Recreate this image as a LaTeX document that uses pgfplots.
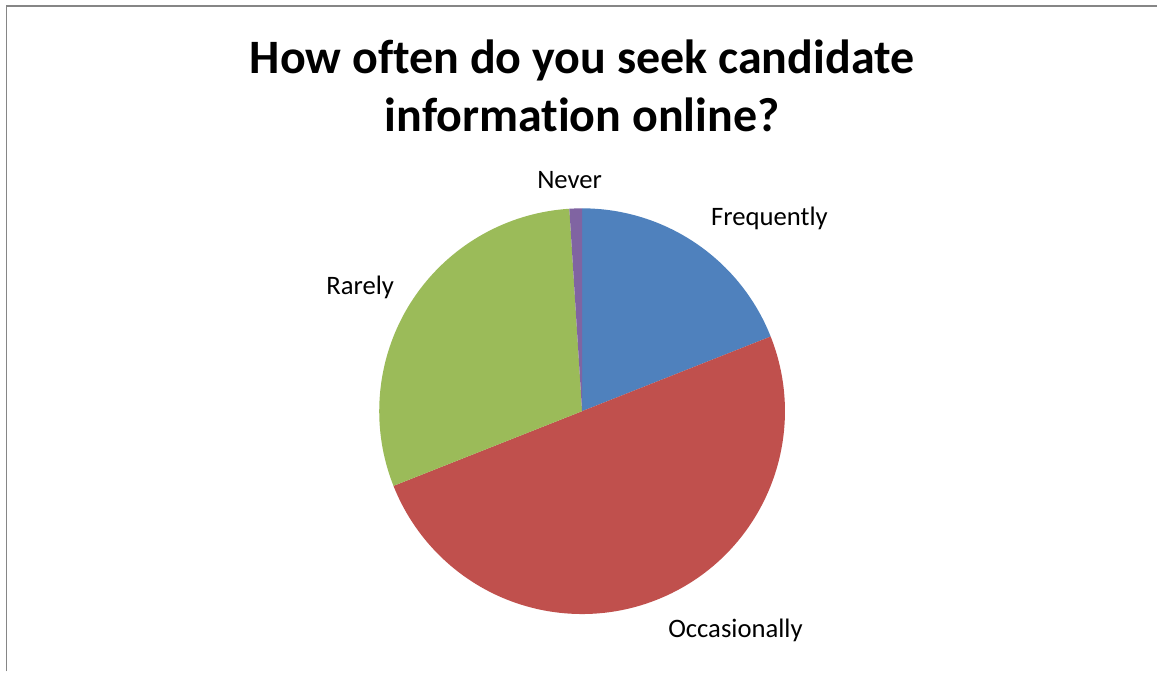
\documentclass[border=0pt]{standalone}
\usepackage{pgfplots}
\pgfplotsset{compat=1.18}
\usepackage{fontspec}
\setmainfont[Ligatures=NoCommon]{Carlito}
\definecolor{cFreq}{HTML}{4F81BD}
\definecolor{cOcc}{HTML}{C0504D}
\definecolor{cRare}{HTML}{9BBB59}
\definecolor{cNever}{HTML}{8064A2}
\definecolor{frame}{HTML}{868686}
% shares in percent: Frequently 19, Occasionally 50, Rarely 30, Never 1
\newcommand{\R}{152.25pt}
\begin{document}
\begin{tikzpicture}
\begin{axis}[
  scale only axis, width=868.5pt, height=504pt,
  xmin=0, xmax=1158, ymin=0, ymax=672,
  hide axis, clip=false,
]
\path (axis cs:0,0) rectangle (axis cs:1158,672);
\draw[frame, line width=1.3pt] (axis cs:6.5,0) -- (axis cs:6.5,666) -- (axis cs:1158,666);
% pie: centre at (582.5, 260.5), starting at 12 o'clock, clockwise
\fill[cFreq]  (axis cs:582.5,260.5) -- ++(90:\R) arc[start angle=90, end angle={90-3.6*19}, radius=\R] -- cycle;
\fill[cOcc]   (axis cs:582.5,260.5) -- ++({90-3.6*19}:\R) arc[start angle={90-3.6*19}, end angle={90-3.6*69}, radius=\R] -- cycle;
\fill[cRare]  (axis cs:582.5,260.5) -- ++({90-3.6*69}:\R) arc[start angle={90-3.6*69}, end angle={90-3.6*99}, radius=\R] -- cycle;
\fill[cNever] (axis cs:582.5,260.5) -- ++({90-3.6*99}:\R) arc[start angle={90-3.6*99}, end angle={90-3.6*100}, radius=\R] -- cycle;
% title
\node[anchor=base, font=\bfseries\fontsize{36}{42}\selectfont] at (axis cs:582.5,598.5) {How often do you seek candidate};
\node[anchor=base, font=\bfseries\fontsize{36}{42}\selectfont] at (axis cs:582.5,540.5) {information online?};
% labels
\node[anchor=base, font=\fontsize{20}{24}\selectfont] at (axis cs:570,483) {Never};
\node[anchor=base, font=\fontsize{20}{24}\selectfont] at (axis cs:770,446) {Frequently};
\node[anchor=base, font=\fontsize{20}{24}\selectfont] at (axis cs:360.5,377) {Rarely};
\node[anchor=base, font=\fontsize{20}{24}\selectfont] at (axis cs:736,34) {Occasionally};
\end{axis}
\end{tikzpicture}
\end{document}
